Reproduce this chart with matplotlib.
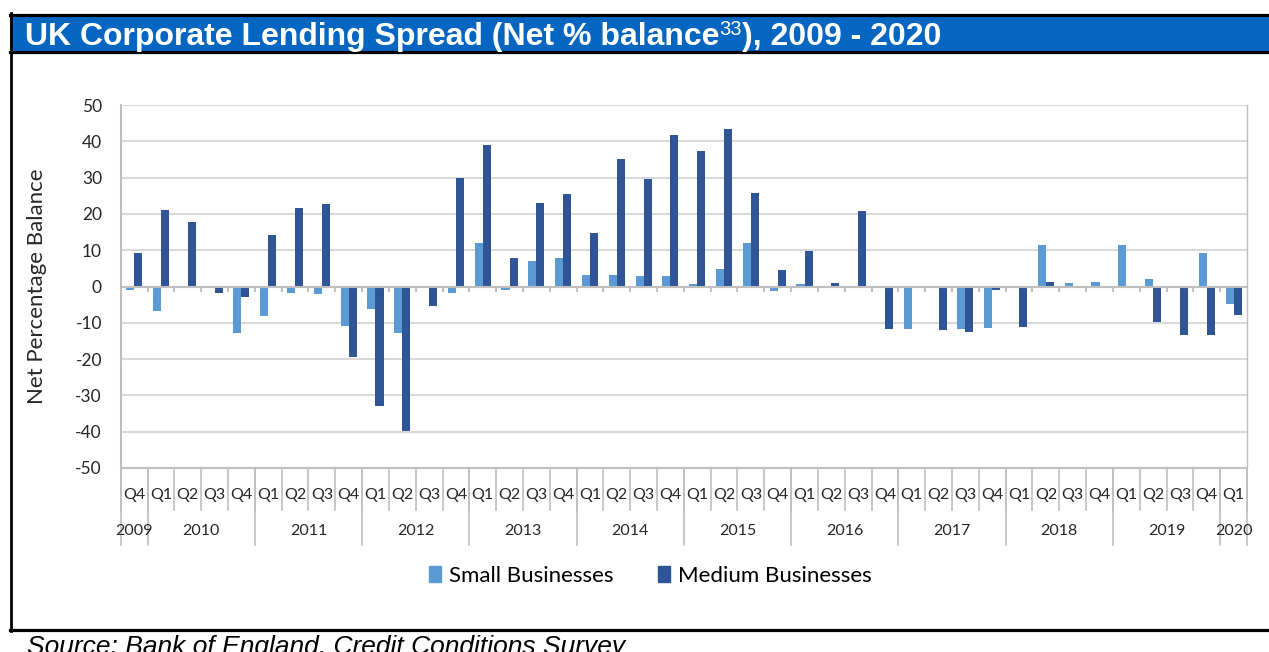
import numpy as np
import matplotlib
matplotlib.use("Agg")
import matplotlib.pyplot as plt
from matplotlib.lines import Line2D
from matplotlib.patches import Rectangle, Patch

plt.rcParams["axes.unicode_minus"] = False

# quarters 2009 Q4 .. 2020 Q1
quarters = ["Q4"] + ["Q1", "Q2", "Q3", "Q4"] * 10 + ["Q1"]
years = ["2009"] + [str(y) for y in range(2010, 2020)] + ["2020"]
year_len = [1] + [4] * 10 + [1]

small = [-0.9, -6.8, -0.5, 0.0, -12.7, -8.1, -1.9, -2.2, -11.0, -6.1,
         -12.9, 0.0, -1.9, 12.0, -0.9, 6.9, 7.8, 3.3, 3.3, 2.9,
         2.9, 0.6, 4.9, 12.0, -1.2, 0.6, 0.0, 0.0, 0.0, -11.7,
         0.0, -11.7, -11.4, 0.0, 11.4, 0.9, 1.3, 11.4, 2.2, 0.0,
         9.1, -4.9]
medium = [9.1, 21.1, 17.9, -1.9, -2.8, 14.2, 21.7, 22.8, -19.5, -32.8,
          -39.7, -5.5, 30.0, 39.1, 7.8, 23.1, 25.4, 14.7, 35.2, 29.7,
          41.7, 37.4, 43.4, 25.7, 4.5, 9.7, 1.0, 20.8, -11.7, 0.0,
          -12.0, -12.5, -0.9, -11.1, 1.3, 0.0, 0.0, -0.5, -9.8, -13.4,
          -13.4, -7.8]

C_SMALL = "#5B9BD5"
C_MED = "#2F5597"
GRID = "#d9d9d9"
AXC = "#bfbfbf"
W, H = 1269, 652

fig = plt.figure(figsize=(W / 100, H / 100), dpi=100)
fig.patch.set_facecolor("white")


def fx(px):
    return px / W


def fy(py):
    return 1 - py / H


# frame and header band
fig.add_artist(Rectangle((fx(10), fy(51)), fx(W - 10), 35 / H, transform=fig.transFigure,
                         facecolor="#0466C0", edgecolor="none"))
for y in (14.5, 51.5, 630):
    fig.add_artist(Line2D([fx(10), 1], [fy(y), fy(y)], color="black", lw=2.3))
fig.add_artist(Line2D([fx(11), fx(11)], [fy(13), fy(631)], color="black", lw=2.0))

# title in three pieces (superscript footnote mark)
tfont = ["Liberation Sans", "DejaVu Sans"]
t1 = fig.text(fx(25), fy(45), "UK Corporate Lending Spread (Net % balance", color="white",
              fontsize=23, fontweight="bold", family=tfont, va="baseline")
fig.canvas.draw()
r = fig.canvas.get_renderer()
bb = t1.get_window_extent(r)
t2 = fig.text(bb.x1 / W, fy(45) + 10 / H, "33", color="white", fontsize=14.5, family=tfont,
              va="baseline")
bb2 = t2.get_window_extent(r)
fig.text(bb2.x1 / W, fy(45), "), 2009 - 2020", color="white", fontsize=23, fontweight="bold",
         family=tfont, va="baseline")

fig.text(fx(27), fy(654), "Source: Bank of England, Credit Conditions Survey", fontsize=19,
         style="italic", family=tfont, va="baseline")

# chart
ax = fig.add_axes([fx(120.7), fy(468), fx(1247 - 120.7), 363 / H])
x = np.arange(len(quarters))
bw = 0.3
ax.bar(x - bw / 2, small, width=bw, color=C_SMALL, zorder=3)
ax.bar(x + bw / 2, medium, width=bw, color=C_MED, zorder=3)

ax.set_xlim(-0.5, len(quarters) - 0.5)
ax.set_ylim(-50, 50)
ax.set_yticks(np.arange(-50, 51, 10))
ax.grid(axis="y", color=GRID, lw=1.5, zorder=0)
ax.set_axisbelow(True)
for s in ("top", "right", "bottom"):
    ax.spines[s].set_visible(False)
ax.spines["left"].set_color(AXC)
ax.spines["left"].set_linewidth(1.5)
ax.tick_params(axis="y", length=0, pad=13.5, labelsize=12.5, labelcolor="#262626")
ax.set_xticks([])
lbl_font = ["Lato", "DejaVu Sans"]
for t in ax.get_yticklabels():
    t.set_family(lbl_font)
ax.set_ylabel("Net Percentage Balance", fontsize=16, family=lbl_font, color="#262626")
ax.yaxis.set_label_coords(-0.0654, 0.5)

# zero axis with small tick marks
ax.axhline(0, color=AXC, lw=1.5, zorder=4)
bounds = np.arange(-0.5, len(quarters), 1.0)
ax.vlines(bounds[1:-1], -1.4, 0, color=AXC, lw=1.5, zorder=4)

# multi-level category axis
tr = ax.get_xaxis_transform()
ax.plot([-0.5, len(quarters) - 0.5], [0, 0], transform=tr, color=AXC, lw=1.5, clip_on=False)
ax.plot([len(quarters) - 0.5] * 2, [0, 1], transform=tr, color=AXC, lw=1.0, clip_on=False)
for b in bounds:
    ax.plot([b, b], [0, -0.116], transform=tr, color=AXC, lw=1.2, clip_on=False)
for i, q in enumerate(quarters):
    ax.text(i, -0.0744, q, transform=tr, ha="center", va="center", fontsize=11.5,
            family=lbl_font, color="#262626")
start = 0
ybounds = [-0.5]
for yr, n in zip(years, year_len):
    ax.text(start + (n - 1) / 2, -0.1736, yr, transform=tr, ha="center", va="center",
            fontsize=11.5, family=lbl_font, color="#262626")
    start += n
    ybounds.append(start - 0.5)
for b in ybounds:
    ax.plot([b, b], [0, -0.212], transform=tr, color=AXC, lw=1.2, clip_on=False)

handles = [Patch(color=C_SMALL, label="Small Businesses"),
           Patch(color=C_MED, label="Medium Businesses")]
fig.legend(handles=handles, loc="center", bbox_to_anchor=(fx(650), fy(576)), ncol=2,
           frameon=False, prop={"family": lbl_font, "size": 16}, handlelength=0.55,
           handleheight=0.75, handletextpad=0.35, columnspacing=2.0)

fig.savefig("out.png", dpi=100)
